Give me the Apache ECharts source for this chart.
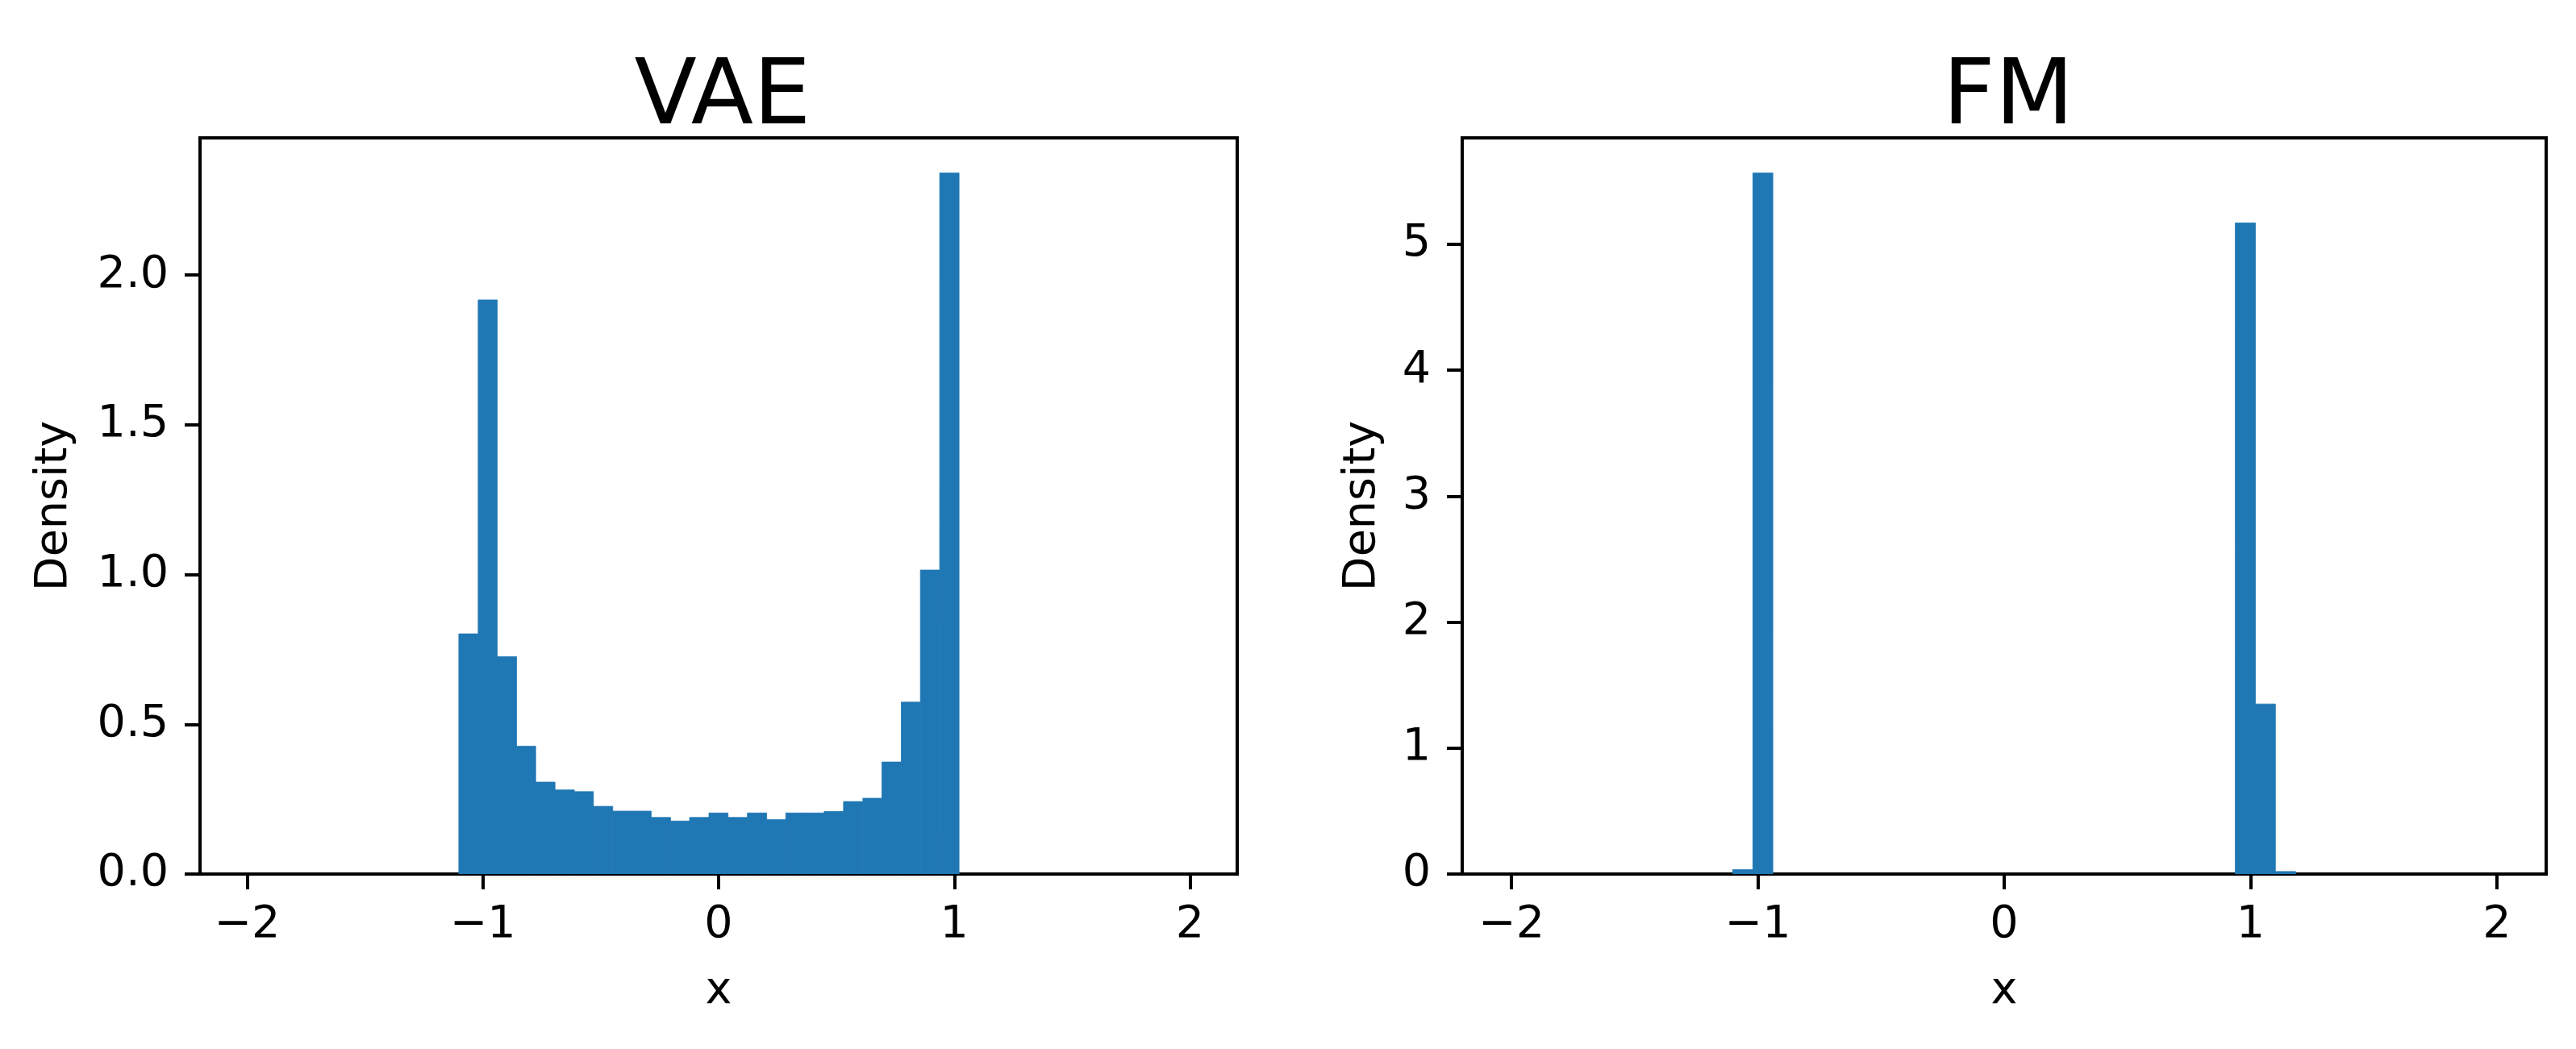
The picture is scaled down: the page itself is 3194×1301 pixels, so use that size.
<!DOCTYPE html>
<html>
<head>
<meta charset="utf-8">
<script src="https://cdn.jsdelivr.net/npm/echarts@6/dist/echarts.min.js"></script>
<style>
html,body{margin:0;padding:0;background:#fff;}
#chart{width:3194px;height:1301px;}
</style>
</head>
<body>
<div id="chart"></div>
<script>
// ---- data ----
const panelTitles = ['VAE', 'FM'];
const xAxisLabel = 'x';
const yAxisLabel = 'Density';
// shared histogram bin edges (29 edges -> 28 bins)
const binEdges = [-1.102, -1.020, -0.939, -0.857, -0.776, -0.694, -0.612, -0.531, -0.449, -0.368,
  -0.286, -0.204, -0.123, -0.041, 0.040, 0.122, 0.204, 0.285, 0.367, 0.448,
  0.530, 0.612, 0.693, 0.775, 0.856, 0.938, 1.020, 1.101, 1.183];
const vaeDensity = [0.802, 1.917, 0.726, 0.427, 0.307, 0.281, 0.275, 0.226, 0.210, 0.210,
  0.189, 0.177, 0.189, 0.204, 0.189, 0.204, 0.182, 0.204, 0.204, 0.209,
  0.242, 0.253, 0.374, 0.574, 1.015, 2.341, 0, 0];
const fmDensity = [0.035, 5.567, 0, 0, 0, 0, 0, 0, 0, 0,
  0, 0, 0, 0, 0, 0, 0, 0, 0, 0,
  0, 0, 0, 0, 0, 5.17, 1.35, 0.02];
const xTicks = [-2, -1, 0, 1, 2];
const vaeYTicks = [0, 0.5, 1.0, 1.5, 2.0];
const fmYTicks = [0, 1, 2, 3, 4, 5];

// ---- styling ----
const BAR = '#1f77b4';
const FONT = 'DejaVu Sans';
const TICK_FS = 55.6;
const LW = 4;

function histRows(dens) {
  const rows = [];
  for (let i = 0; i < dens.length; i++) rows.push([binEdges[i], binEdges[i + 1], dens[i]]);
  return rows;
}
function fmtNum(v, dec) {
  const s = Math.abs(v).toFixed(dec);
  return (v < 0 ? '\u2212' : '') + s;
}

const grids = [
  {left: 248, top: 171, width: 1286, height: 913},
  {left: 1813, top: 171, width: 1344, height: 913}
];
const yMax = [Math.max(...vaeDensity) * 1.05, Math.max(...fmDensity) * 1.05];
const yTicksArr = [vaeYTicks, fmYTicks];
const yDec = [1, 0];
const densArr = [vaeDensity, fmDensity];

const option = {
  animation: false,
  backgroundColor: '#fff',
  title: panelTitles.map((t, i) => ({
    text: t,
    left: grids[i].left + grids[i].width / 2,
    textAlign: 'center',
    top: 62,
    textStyle: {fontFamily: FONT, fontSize: 113, fontWeight: 'normal', color: '#000'}
  })),
  grid: grids.map(g => Object.assign({show: true, borderColor: '#000', borderWidth: LW, backgroundColor: 'transparent', containLabel: false}, g)),
  xAxis: grids.map((g, i) => ({
    gridIndex: i, type: 'value', min: -2.2, max: 2.2,
    name: xAxisLabel, nameLocation: 'middle', nameGap: 118,
    nameTextStyle: {fontFamily: FONT, fontSize: TICK_FS, color: '#000'},
    axisLine: {show: true, onZero: false, lineStyle: {color: '#000', width: LW}},
    axisTick: {show: true, inside: false, length: 19, lineStyle: {color: '#000', width: LW}, customValues: xTicks},
    axisLabel: {show: true, margin: 36, fontFamily: FONT, fontSize: TICK_FS, color: '#000', customValues: xTicks,
      formatter: v => fmtNum(v, 0)},
    splitLine: {show: false}
  })),
  yAxis: grids.map((g, i) => ({
    gridIndex: i, type: 'value', min: 0, max: yMax[i],
    name: yAxisLabel, nameLocation: 'middle', nameGap: i === 0 ? 152 : 95, nameRotate: 90,
    nameTextStyle: {fontFamily: FONT, fontSize: TICK_FS, color: '#000'},
    axisLine: {show: true, onZero: false, lineStyle: {color: '#000', width: LW}},
    axisTick: {show: true, inside: false, length: 19, lineStyle: {color: '#000', width: LW}, customValues: yTicksArr[i]},
    axisLabel: {show: true, margin: 39, fontFamily: FONT, fontSize: TICK_FS, color: '#000', customValues: yTicksArr[i],
      formatter: v => fmtNum(v, yDec[i])},
    splitLine: {show: false}
  })),
  series: densArr.map((d, i) => ({
    type: 'custom',
    xAxisIndex: i, yAxisIndex: i,
    data: histRows(d),
    encode: {x: [0, 1], y: 2},
    clip: true,
    z: 1,
    renderItem: function (params, api) {
      const x0 = api.value(0), x1 = api.value(1), h = api.value(2);
      if (!h) return null;
      const p0 = api.coord([x0, 0]);
      const p1 = api.coord([x1, h]);
      return {
        type: 'rect',
        shape: {x: p0[0], y: p1[1], width: p1[0] - p0[0], height: p0[1] - p1[1]},
        style: {fill: BAR, stroke: BAR, lineWidth: 0.8}
      };
    }
  }))
};

const chart = echarts.init(document.getElementById('chart'), null, {renderer: 'canvas'});
chart.setOption(option);
</script>
</body>
</html>
